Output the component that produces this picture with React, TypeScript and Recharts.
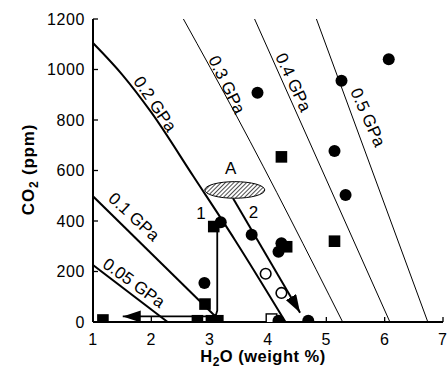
import React from 'react';
import { ComposedChart, XAxis, YAxis, Line, Scatter, ReferenceDot } from 'recharts';

const xTicks = [1, 2, 3, 4, 5, 6, 7];
const yTicks = [0, 200, 400, 600, 800, 1000, 1200];

const iso005 = [{ x: 1, y: 226 }, { x: 2.28, y: 0 }];
const iso01 = [{ x: 1, y: 498 }, { x: 3.1, y: 22 }];
const iso02 = [
  { x: 1, y: 1105 }, { x: 1.5, y: 980 }, { x: 2.0, y: 830 },
  { x: 2.72, y: 577 }, { x: 3.43, y: 326 }, { x: 4.3, y: 0 },
];
const iso03 = [{ x: 2.55, y: 1200 }, { x: 3.47, y: 812 }, { x: 5.28, y: 0 }];
const iso04 = [{ x: 3.77, y: 1200 }, { x: 6.09, y: 0 }];
const iso05 = [{ x: 4.83, y: 1200 }, { x: 6.74, y: 0 }];

const path1 = [
  { x: 3.13, y: 411 }, { x: 3.13, y: 45 }, { x: 3.11, y: 30 },
  { x: 3.05, y: 22 }, { x: 1.51, y: 22 },
];
const path2 = [{ x: 3.4, y: 490 }, { x: 4.55, y: 37 }];

const filledCircles = [
  { x: 3.82, y: 908 }, { x: 5.26, y: 955 }, { x: 6.07, y: 1041 },
  { x: 5.14, y: 677 }, { x: 5.33, y: 503 }, { x: 3.72, y: 346 },
  { x: 4.23, y: 312 }, { x: 4.18, y: 278 }, { x: 3.19, y: 395 },
  { x: 2.91, y: 154 }, { x: 4.18, y: 5 }, { x: 4.69, y: 5 },
];
const filledSquares = [
  { x: 4.23, y: 654 }, { x: 5.14, y: 320 }, { x: 4.32, y: 298 },
  { x: 3.07, y: 378 }, { x: 2.92, y: 71 }, { x: 1.17, y: 8 },
  { x: 2.79, y: 5 }, { x: 3.03, y: 5 }, { x: 3.14, y: 5 },
];
const openCircles = [{ x: 3.96, y: 191 }, { x: 4.23, y: 115 }];
const openSquares = [{ x: 4.06, y: 11 }];

const gpaLabels = [
  { text: '0.05 GPa', x: 1.7, y: 154, angle: 36 },
  { text: '0.1 GPa', x: 1.7, y: 416, angle: 43 },
  { text: '0.2 GPa', x: 2.06, y: 863, angle: 56 },
  { text: '0.3 GPa', x: 3.29, y: 939, angle: 64 },
  { text: '0.4 GPa', x: 4.43, y: 949, angle: 65 },
  { text: '0.5 GPa', x: 5.71, y: 810, angle: 66 },
];
const markLabels = [
  { text: '1', x: 2.85, y: 428 },
  { text: '2', x: 3.75, y: 433 },
  { text: 'A', x: 3.36, y: 609 },
];
const ellipseCenter = { x: 3.43, y: 523 };

const FONT = '"Liberation Sans", Arial, Helvetica, sans-serif';

const FilledCircle = (p: any) => <circle cx={p.cx} cy={p.cy} r={6} fill="#000" />;
const OpenCircle = (p: any) => (
  <circle cx={p.cx} cy={p.cy} r={5.3} fill="#fff" stroke="#000" strokeWidth={1.6} />
);
const FilledSquare = (p: any) => (
  <rect x={p.cx - 5.8} y={p.cy - 5.8} width={11.6} height={11.6} fill="#000" />
);
const OpenSquare = (p: any) => (
  <rect x={p.cx - 5.3} y={p.cy - 5.3} width={10.6} height={10.6} fill="#fff" stroke="#000" strokeWidth={1.4} />
);

const makeRotText = (text: string, angle: number) => (p: any) => (
  <text
    x={p.cx}
    y={p.cy}
    transform={`rotate(${angle} ${p.cx} ${p.cy})`}
    textAnchor="middle"
    dominantBaseline="central"
    fontSize={17}
    fontFamily={FONT}
    fill="#000"
  >
    {text}
  </text>
);

const makeText = (text: string) => (p: any) => (
  <text x={p.cx} y={p.cy} textAnchor="middle" dominantBaseline="central" fontSize={17} fontFamily={FONT} fill="#000">
    {text}
  </text>
);

const EllipseShape = (p: any) => (
  <ellipse cx={p.cx} cy={p.cy} rx={30} ry={8.3} fill="url(#hatch)" stroke="#000" strokeWidth={1} />
);

const YLabel = (p: any) => {
  const vb = p.viewBox || { x: 0, y: 19, width: 93, height: 303 };
  const x = vb.x + 34;
  const y = vb.y + vb.height / 2 - 1;
  return (
    <text x={x} y={y} transform={`rotate(-90 ${x} ${y})`} textAnchor="middle" fontSize={17} letterSpacing={0.8} fontWeight="bold" fontFamily={FONT} fill="#000">
      CO<tspan dy={4} fontSize={12}>2</tspan><tspan dy={-4}> (ppm)</tspan>
    </text>
  );
};

const XLabel = (p: any) => {
  const vb = p.viewBox || { x: 93, y: 322, width: 350, height: 46 };
  const x = vb.x + vb.width / 2 - 5;
  const y = 362;
  return (
    <text x={x} y={y} textAnchor="middle" fontSize={16.5} letterSpacing={0.5} fontWeight="bold" fontFamily={FONT} fill="#000">
      H<tspan dy={4} fontSize={12}>2</tspan><tspan dy={-4}>O (weight %)</tspan>
    </text>
  );
};

const axisLine = { stroke: '#000', strokeWidth: 2 };
const tickLine = { stroke: '#000', strokeWidth: 1.3 };
const tickStyle = { fill: '#000', fontSize: 16, fontFamily: FONT, letterSpacing: 0.6 };

export default function App() {
  return (
    <div style={{ position: 'absolute', left: 0, top: 0, width: 447, height: 368, background: '#fff' }}>
      <svg width={0} height={0} style={{ position: 'absolute' }}>
        <defs>
          <pattern id="hatch" width={3} height={3} patternUnits="userSpaceOnUse" patternTransform="rotate(45)">
            <rect width={3} height={3} fill="#fff" />
            <line x1={0} y1={0} x2={0} y2={3} stroke="#000" strokeWidth={1.4} />
          </pattern>
          <marker id="arrowHead" markerUnits="userSpaceOnUse" markerWidth={20} markerHeight={12} refX={18} refY={6} orient="auto">
            <path d="M0,0 L18,6 L0,12 Z" fill="#000" />
          </marker>
        </defs>
      </svg>
      <ComposedChart
        width={447}
        height={368}
        margin={{ top: 19, right: 4, bottom: 0, left: 0 }}
        style={{ fontFamily: FONT }}
      >
        <XAxis
          xAxisId={0}
          dataKey="x"
          type="number"
          domain={[1, 7]}
          ticks={xTicks}
          allowDataOverflow
          height={46}
          axisLine={axisLine}
          tickLine={tickLine}
          tickSize={-5}
          tickMargin={17}
          tick={tickStyle}
          label={<XLabel />}
        />
        <XAxis
          xAxisId="top"
          orientation="top"
          dataKey="x"
          type="number"
          domain={[1, 7]}
          ticks={xTicks}
          allowDataOverflow
          height={0}
          axisLine={axisLine}
          tickLine={tickLine}
          tickSize={-5}
          tickFormatter={() => ''}
        />
        <YAxis
          yAxisId={0}
          dataKey="y"
          type="number"
          domain={[0, 1200]}
          ticks={yTicks}
          allowDataOverflow
          width={93}
          axisLine={axisLine}
          tickLine={tickLine}
          tickSize={-5}
          tickMargin={13}
          tick={tickStyle}
          label={<YLabel />}
        />
        <YAxis
          yAxisId="right"
          orientation="right"
          dataKey="y"
          type="number"
          domain={[0, 1200]}
          ticks={yTicks}
          allowDataOverflow
          width={0}
          axisLine={axisLine}
          tickLine={tickLine}
          tickSize={-5}
          tickFormatter={() => ''}
        />

        <Line data={iso005} dataKey="y" stroke="#000" strokeWidth={2} dot={false} isAnimationActive={false} type="linear" />
        <Line data={iso01} dataKey="y" stroke="#000" strokeWidth={2} dot={false} isAnimationActive={false} type="linear" />
        <Line data={iso02} dataKey="y" stroke="#000" strokeWidth={2} dot={false} isAnimationActive={false} type="monotone" />
        <Line data={iso03} dataKey="y" stroke="#000" strokeWidth={1} dot={false} isAnimationActive={false} type="monotone" />
        <Line data={iso04} dataKey="y" stroke="#000" strokeWidth={1} dot={false} isAnimationActive={false} type="linear" />
        <Line data={iso05} dataKey="y" stroke="#000" strokeWidth={1} dot={false} isAnimationActive={false} type="linear" />

        <Line data={path1} dataKey="y" stroke="#000" strokeWidth={1.8} dot={false} isAnimationActive={false} type="linear" markerEnd="url(#arrowHead)" />
        <Line data={path2} dataKey="y" stroke="#000" strokeWidth={2} dot={false} isAnimationActive={false} type="linear" markerEnd="url(#arrowHead)" />

        <Scatter data={openSquares} dataKey="y" shape={OpenSquare} isAnimationActive={false} />
        <Scatter data={filledSquares} dataKey="y" shape={FilledSquare} isAnimationActive={false} />
        <Scatter data={filledCircles} dataKey="y" shape={FilledCircle} isAnimationActive={false} />
        <Scatter data={openCircles} dataKey="y" shape={OpenCircle} isAnimationActive={false} />

        <ReferenceDot x={ellipseCenter.x} y={ellipseCenter.y} r={0} shape={EllipseShape} />
        {gpaLabels.map((l) => (
          <ReferenceDot key={l.text} x={l.x} y={l.y} r={0} shape={makeRotText(l.text, l.angle)} />
        ))}
        {markLabels.map((l) => (
          <ReferenceDot key={l.text} x={l.x} y={l.y} r={0} shape={makeText(l.text)} />
        ))}
      </ComposedChart>
    </div>
  );
}
